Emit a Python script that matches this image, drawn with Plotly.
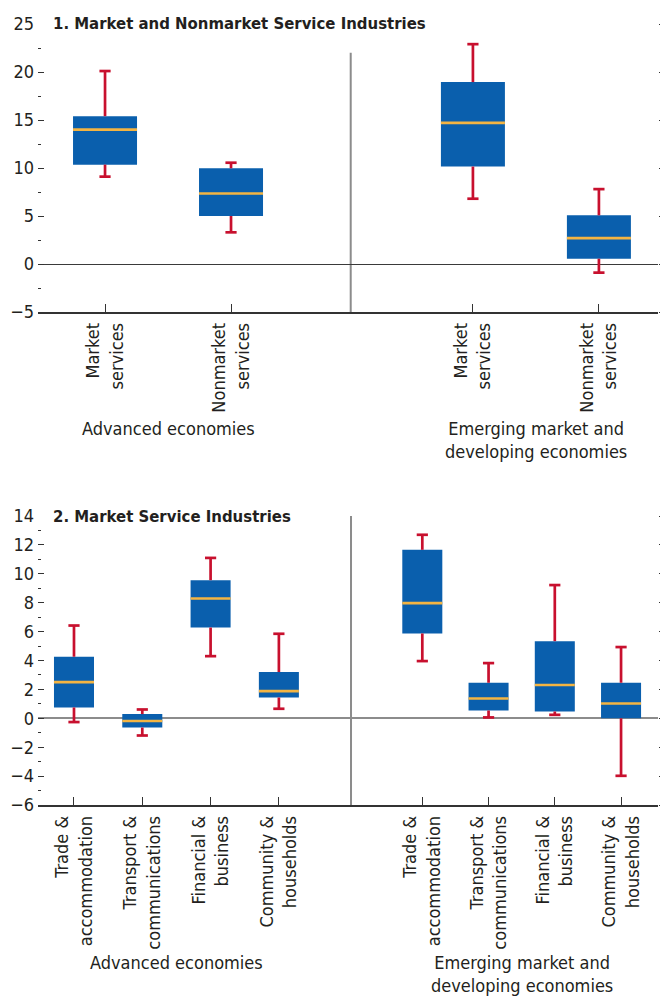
import plotly.graph_objects as go

# ---- data -------------------------------------------------------------
top_labels = ["Market<br>services", "Nonmarket<br>services",
              "Market<br>services", "Nonmarket<br>services"]
top_lo = [9.1, 3.3, 6.8, -0.9]
top_q1 = [10.35, 5.0, 10.15, 0.55]
top_med = [14.0, 7.35, 14.7, 2.7]
top_q3 = [15.4, 9.97, 18.95, 5.07]
top_hi = [20.1, 10.55, 22.9, 7.8]

bot_labels = ["Trade &<br>accommodation", "Transport &<br>communications",
              "Financial &<br>business", "Community &<br>households"] * 2
bot_lo = [-0.26, -1.19, 4.3, 0.66, 3.96, 0.06, 0.24, -3.98]
bot_q1 = [0.75, -0.64, 6.28, 1.44, 5.87, 0.54, 0.47, 0.0]
bot_med = [2.5, -0.19, 8.29, 1.88, 7.97, 1.37, 2.3, 1.02]
bot_q3 = [4.26, 0.29, 9.56, 3.2, 11.66, 2.46, 5.34, 2.46]
bot_hi = [6.42, 0.61, 11.1, 5.85, 12.7, 3.82, 9.22, 4.93]

groups = ["Advanced economies", "Emerging market and<br>developing economies"]
top_title = "1. Market and Nonmarket Service Industries"
bot_title = "2. Market Service Industries"

top_yticks = [-5, 0, 5, 10, 15, 20, 25]
bot_yticks = [-6, -4, -2, 0, 2, 4, 6, 8, 10, 12, 14]

# ---- layout helpers ---------------------------------------------------
top_pos = [0, 1, 2.92, 3.92]
top_div = 1.95
top_xrange = [-0.532, 4.389]
top_bw = 0.508

bot_pos = [0, 1, 2, 3, 5.1, 6.07, 7.04, 8.01]
bot_div = 4.056
bot_xrange = [-0.527, 8.551]
bot_bw = 0.586

FONT = "DejaVu Sans Condensed, Liberation Sans Narrow, Arial Narrow, sans-serif"
FS = 18
TXT = "#231f20"
BLUE = "#0a5fad"
RED = "#c8102e"
ORANGE = "#f3b443"
GRAY = "#8c8c8c"

W, H = 660, 996


def panel_traces(pos, lo, q1, med, q3, hi, bw, xa, ya):
    traces = []
    traces.append(go.Bar(
        x=pos, y=[b - a for a, b in zip(q1, q3)], base=q1, width=bw,
        marker=dict(color=BLUE, line=dict(width=0)),
        xaxis=xa, yaxis=ya, showlegend=False, hoverinfo="skip"))
    # whiskers
    wx, wy = [], []
    for p, l, a, b, h in zip(pos, lo, q1, q3, hi):
        wx += [p, p, None, p, p, None]
        wy += [b, h, None, a, l, None]
    traces.append(go.Scatter(
        x=wx, y=wy, mode="lines", line=dict(color=RED, width=2.7),
        xaxis=xa, yaxis=ya, showlegend=False, hoverinfo="skip"))
    traces.append(go.Scatter(
        x=pos + pos, y=hi + lo, mode="markers",
        marker=dict(symbol="line-ew", size=8,
                    line=dict(color=RED, width=2.7)),
        xaxis=xa, yaxis=ya, showlegend=False, hoverinfo="skip"))
    # medians
    mx, my = [], []
    for p, m in zip(pos, med):
        mx += [p - bw / 2, p + bw / 2, None]
        my += [m, m, None]
    traces.append(go.Scatter(
        x=mx, y=my, mode="lines", line=dict(color=ORANGE, width=2.6),
        xaxis=xa, yaxis=ya, showlegend=False, hoverinfo="skip"))
    return traces


fig = go.Figure()
for t in panel_traces(top_pos, top_lo, top_q1, top_med, top_q3, top_hi,
                      top_bw, "x", "y"):
    fig.add_trace(t)
for t in panel_traces(bot_pos, bot_lo, bot_q1, bot_med, bot_q3, bot_hi,
                      bot_bw, "x2", "y2"):
    fig.add_trace(t)

top_dom = [1 - 312 / H, 1 - 24 / H]
bot_dom = [1 - 805 / H, 1 - 516 / H]

tickfont = dict(family=FONT, size=FS, color=TXT)


def xaxis(rng, pos, labels, anchor):
    return dict(range=rng, tickvals=pos, ticktext=labels, tickangle=-90,
                ticks="inside", ticklen=8, tickwidth=1.3, tickcolor="#333",
                showline=True, linecolor="#333", linewidth=1.5,
                showgrid=False, zeroline=False, tickfont=tickfont,
                anchor=anchor, domain=[0, 1], fixedrange=True,
                ticklabelstandoff=2, automargin=False)


def yaxis(rng, ticks, dom, minor_step, zcolor, zwidth, anchor):
    return dict(range=rng, tickvals=ticks, ticks="inside", ticklen=6,
                tickwidth=1.4, tickcolor="#333", showline=False,
                showgrid=False, zeroline=True, zerolinecolor=zcolor,
                zerolinewidth=zwidth, tickfont=tickfont, domain=dom,
                anchor=anchor, ticklabelstandoff=3, automargin=False,
                minor=dict(ticks="inside", ticklen=3, tickwidth=1.3,
                           tickcolor="#333", dtick=minor_step,
                           tick0=rng[0], showgrid=False),
                fixedrange=True)


def yright(rng, ticks, over, anchor):
    return dict(range=rng, tickvals=ticks, ticks="outside", ticklen=4,
                tickwidth=1.3, tickcolor="#333", showticklabels=False,
                showgrid=False, zeroline=False, showline=False,
                overlaying=over, side="right", anchor=anchor,
                automargin=False, fixedrange=True)


fig.update_layout(
    template="none",
    width=W, height=H,
    margin=dict(l=38, r=2, t=0, b=0, pad=0, autoexpand=False),
    paper_bgcolor="white", plot_bgcolor="white",
    barmode="overlay", showlegend=False,
    font=dict(family=FONT, size=FS, color=TXT),
    xaxis=xaxis(top_xrange, top_pos, top_labels, "y"),
    yaxis=yaxis([-5, 25], top_yticks, top_dom, 2.5, "#3a3a3a", 1.3, "x"),
    xaxis2=xaxis(bot_xrange, bot_pos, bot_labels, "y2"),
    yaxis2=yaxis([-6, 14], bot_yticks, bot_dom, 1, GRAY, 2.2, "x2"),
    yaxis3=yright([-5, 25], top_yticks, "y", "x"),
    yaxis4=yright([-6, 14], bot_yticks, "y2", "x2"),
)

# invisible traces so the right-hand tick axes are drawn
fig.add_trace(go.Scatter(x=[None], y=[None], xaxis="x", yaxis="y3",
                         showlegend=False))
fig.add_trace(go.Scatter(x=[None], y=[None], xaxis="x2", yaxis="y4",
                         showlegend=False))

# vertical separators between the two country groups
fig.add_shape(type="line", xref="x", yref="y", x0=top_div, x1=top_div,
              y0=-5, y1=22, line=dict(color=GRAY, width=2), layer="below")
fig.add_shape(type="line", xref="x2", yref="y2", x0=bot_div, x1=bot_div,
              y0=-6, y1=14, line=dict(color=GRAY, width=2), layer="below")

# panel titles
title_font = dict(family=FONT, size=16.6, color=TXT)
fig.add_annotation(text="<b>" + top_title + "</b>", xref="paper", yref="y",
                   x=13 / 620, y=25, xanchor="left", yanchor="middle",
                   showarrow=False, font=title_font)
fig.add_annotation(text="<b>" + bot_title + "</b>", xref="paper", yref="y2",
                   x=13 / 620, y=14, xanchor="left", yanchor="middle",
                   showarrow=False, font=title_font)

# group captions under each panel
top_groups = [top_pos[:2], top_pos[2:]]
bot_groups = [bot_pos[:4], bot_pos[4:]]
for name, g in zip(groups, top_groups):
    fig.add_annotation(text=name, xref="x", yref="paper",
                       x=sum(g) / len(g),
                       y=1 - (428 if "<br>" not in name else 440) / H,
                       yanchor="middle", showarrow=False,
                       font=dict(family=FONT, size=FS, color=TXT))
for name, g in zip(groups, bot_groups):
    fig.add_annotation(text=name, xref="x2", yref="paper",
                       x=sum(g) / len(g),
                       y=1 - (962 if "<br>" not in name else 974) / H,
                       yanchor="middle", showarrow=False,
                       font=dict(family=FONT, size=FS, color=TXT))

fig.write_html("out.html", config={"displayModeBar": False})
